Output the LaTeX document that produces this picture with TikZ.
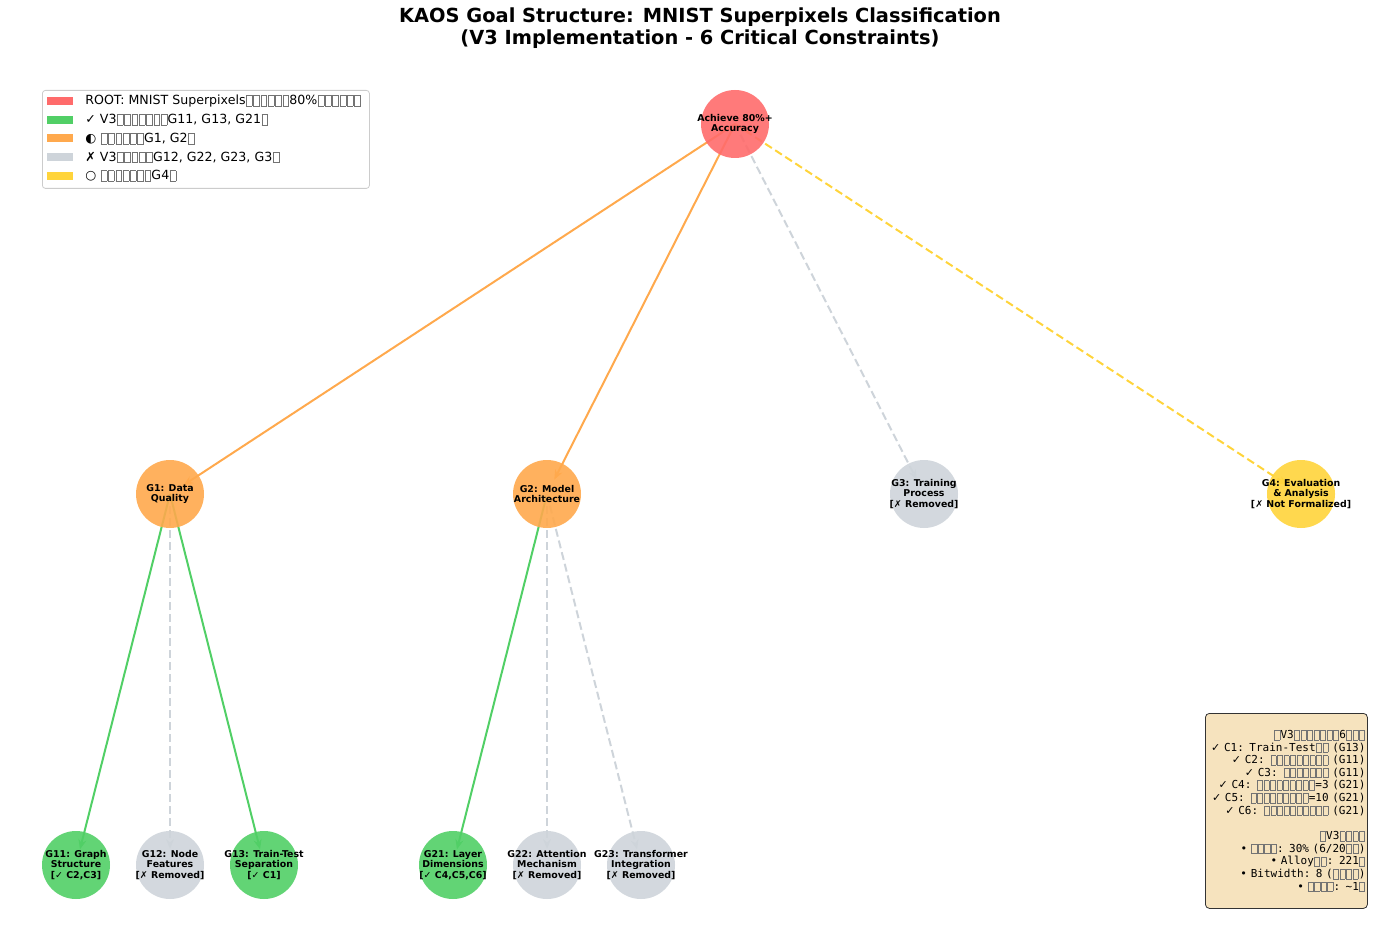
\documentclass[tikz,border=0pt]{standalone}
\usepackage{fontspec}
\setmainfont{DejaVu Sans}
\setmonofont{DejaVu Sans Mono}
\newfontfamily\symfont{DejaVu Sans}
\usetikzlibrary{arrows.meta,backgrounds}

\definecolor{rootred}{HTML}{FF6B6B}
\definecolor{okgreen}{HTML}{51CF66}
\definecolor{partorange}{HTML}{FFA94D}
\definecolor{gonegray}{HTML}{CED4DA}
\definecolor{todoyellow}{HTML}{FFD43B}
\definecolor{notewheat}{HTML}{F5DEB3}

% missing glyph boxes as printed in the picture
\newcommand\tofu{\kern0.04em{\color{black!55}\setlength\fboxsep{0pt}\setlength\fboxrule{0.25pt}\fbox{\rule[-0.1em]{0pt}{0.82em}\hspace{0.42em}}}\kern0.04em}
\ExplSyntaxOn
\NewDocumentCommand\tofus{m}{\prg_replicate:nn{#1}{\tofu}}
\ExplSyntaxOff
\newcommand\chk{{\normalfont\symfont ✓}}
\newcommand\crs{{\normalfont\symfont ✗}}

\begin{document}
\begin{tikzpicture}[x=0.5pt,y=-0.5pt,
    goal/.style={circle,minimum size=34pt,inner sep=0pt,fill opacity=0.9},
    goaltext/.style={align=center,inner sep=0pt,font=\bfseries\fontsize{4.7}{5.25}\selectfont},
    link/.style={line width=1pt,-{Stealth[length=5pt,width=4pt]},shorten >=8pt},
    cut/.style={link,dash pattern=on 4pt off 2pt}]
    \useasboundingbox (0,0) rectangle (1400,930);

    % Title
    \node[font=\bfseries\fontsize{9.7}{11}\selectfont,align=center] (title) at (700,28)
      {KAOS Goal Structure: MNIST Superpixels Classification\\(V3 Implementation - 6 Critical Constraints)};

    % Goals
    \node[goal,fill=rootred] (root) at (735,124) {};
    \node[goal,fill=partorange] (g1) at (170,494) {};
    \node[goal,fill=partorange] (g2) at (547,494) {};
    \node[goal,fill=gonegray] (g3) at (924,494) {};
    \node[goal,fill=todoyellow] (g4) at (1301,494) {};
    \node[goal,fill=okgreen] (g11) at (76,865) {};
    \node[goal,fill=gonegray] (g12) at (170,865) {};
    \node[goal,fill=okgreen] (g13) at (264,865) {};
    \node[goal,fill=okgreen] (g21) at (453,865) {};
    \node[goal,fill=gonegray] (g22) at (547,865) {};
    \node[goal,fill=gonegray] (g23) at (641,865) {};

    % Goal labels
    \node[goaltext] (root text) at (root) {Achieve 80\%+\\Accuracy};
    \node[goaltext] (g1 text) at (g1) {G1: Data\\Quality};
    \node[goaltext] (g2 text) at (g2) {G2: Model\\Architecture};
    \node[goaltext] (g3 text) at (g3) {G3: Training\\Process\\{[\crs{} Removed]}};
    \node[goaltext] (g4 text) at (g4) {G4: Evaluation\\\& Analysis\\{[\crs{} Not Formalized]}};
    \node[goaltext] (g11 text) at (g11) {G11: Graph\\Structure\\{[\chk{} C2,C3]}};
    \node[goaltext] (g12 text) at (g12) {G12: Node\\Features\\{[\crs{} Removed]}};
    \node[goaltext] (g13 text) at (g13) {G13: Train-Test\\Separation\\{[\chk{} C1]}};
    \node[goaltext] (g21 text) at (g21) {G21: Layer\\Dimensions\\{[\chk{} C4,C5,C6]}};
    \node[goaltext] (g22 text) at (g22) {G22: Attention\\Mechanism\\{[\crs{} Removed]}};
    \node[goaltext] (g23 text) at (g23) {G23: Transformer\\Integration\\{[\crs{} Removed]}};

    % Refinement links
    \begin{scope}[on background layer]
      \draw[link,partorange] (root.center) -- (g1.center);
      \draw[link,partorange] (root.center) -- (g2.center);
      \draw[cut,gonegray] (root.center) -- (g3.center);
      \draw[cut,todoyellow] (root.center) -- (g4.center);
      \draw[link,okgreen] (g1.center) -- (g11.center);
      \draw[cut,gonegray] (g1.center) -- (g12.center);
      \draw[link,okgreen] (g1.center) -- (g13.center);
      \draw[link,okgreen] (g2.center) -- (g21.center);
      \draw[cut,gonegray] (g2.center) -- (g22.center);
      \draw[cut,gonegray] (g2.center) -- (g23.center);
    \end{scope}

    % Legend
    \node[draw=black!20,fill=white,rounded corners=1.5pt,minimum width=163.5pt,minimum height=49pt,
      inner sep=0pt,anchor=north west] (legend) at (42,90) {};
    \foreach \c/\t [count=\i] in {
        rootred/{ROOT: MNIST Superpixels\tofus{6}80\%\tofus{6}},
        okgreen/{\chk{} V3\tofus{7}G11, G13, G21\tofu},
        partorange/{◐ \tofus{6}G1, G2\tofu},
        gonegray/{\crs{} V3\tofus{5}G12, G22, G23, G3\tofu},
        todoyellow/{○ \tofus{7}G4\tofu}} {
      \fill[\c] (47,{97+18.75*(\i-1)}) rectangle ++(26,8);
      \node[anchor=west,inner sep=0pt,font=\fontsize{6.3}{7}\selectfont] (leg\i) at (85,{101+18.75*(\i-1)}) {\t};
    }

    % Constraint summary
    \node[draw=black!80,fill=notewheat,fill opacity=0.85,text opacity=1,rounded corners=2pt,
      text width=79pt,minimum height=97.5pt,inner xsep=1pt,align=right,anchor=north west,
      font=\ttfamily\fontsize{5.5}{6.3}\selectfont] (notes) at (1205,713) {%
      \tofu V3\tofus{7}6\tofus{3}\\
      \chk{} C1: Train-Test\tofus{2}\ (G13)\\
      \chk{} C2: \tofus{9}\ (G11)\\
      \chk{} C3: \tofus{7}\ (G11)\\
      \chk{} C4: \tofus{9}=3 (G21)\\
      \chk{} C5: \tofus{9}=10 (G21)\\
      \chk{} C6: \tofus{10}\ (G21)\\
      ~\\
      \tofu V3\tofus{4}\\
      • \tofus{4}: 30\% (6/20\tofus{2})\\
      • Alloy\tofus{2}: 221\tofu\\
      • Bitwidth: 8 (\tofus{4})\\
      • \tofus{4}: \textasciitilde 1\tofu};
\end{tikzpicture}
\end{document}
